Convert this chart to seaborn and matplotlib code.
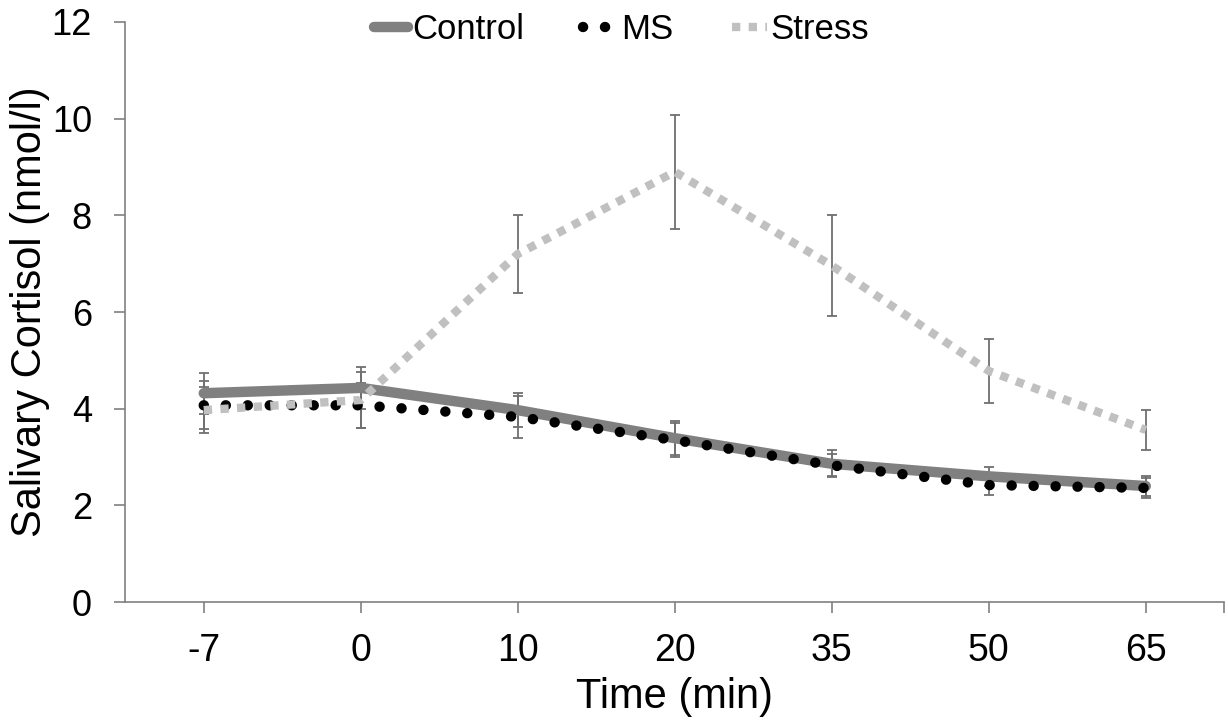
import matplotlib
matplotlib.use("Agg")
import matplotlib.pyplot as plt
import seaborn as sns
import pandas as pd

# data
time_labels = ["-7", "0", "10", "20", "35", "50", "65"]
control_mean = [4.32, 4.43, 3.97, 3.39, 2.86, 2.60, 2.40]
control_err = [0.42, 0.43, 0.35, 0.35, 0.28, 0.20, 0.20]
ms_mean = [4.07, 4.07, 3.83, 3.35, 2.83, 2.42, 2.36]
ms_err = [0.50, 0.47, 0.44, 0.35, 0.23, 0.20, 0.21]
stress_mean = [3.97, 4.18, 7.20, 8.90, 6.96, 4.78, 3.56]
stress_err = [0.47, 0.58, 0.80, 1.18, 1.04, 0.67, 0.42]

sns.set_theme(style="white")
plt.rcParams["font.family"] = ["Liberation Sans", "DejaVu Sans"]
plt.rcParams["text.color"] = "black"
plt.rcParams["axes.labelcolor"] = "black"

pos = list(range(len(time_labels)))
df = pd.DataFrame({
    "pos": pos * 3,
    "cortisol": control_mean + ms_mean + stress_mean,
    "group": ["Control"] * 7 + ["MS"] * 7 + ["Stress"] * 7,
})

fig = plt.figure(figsize=(12.28, 7.21), dpi=100)
ax = fig.add_axes([0.102, 0.165, 0.895, 0.8045])

# error bars first, underneath the lines
for means, errs in [(control_mean, control_err), (ms_mean, ms_err), (stress_mean, stress_err)]:
    ax.errorbar(pos, means, yerr=errs, fmt="none", ecolor="#707070",
                elinewidth=1.3, capsize=3.5, capthick=1.3, zorder=1)

styles = {
    "Control": dict(color="#808080", lw=7.5, ls="-", solid_capstyle="round"),
    "MS": dict(color="black", lw=7.5, ls=(0, (0.01, 2.1)), dash_capstyle="round"),
    "Stress": dict(color="#c0c0c0", lw=6.0, ls=(0, (1.0, 1.0)), dash_capstyle="butt"),
}
for name in ["Control", "MS", "Stress"]:
    sub = df[df["group"] == name]
    sns.lineplot(data=sub, x="pos", y="cortisol", ax=ax, label=name,
                 zorder=3 if name != "Control" else 2, **styles[name])

ax.set_xlim(-0.5, 6.5)
ax.set_ylim(0, 12)
ax.set_xticks(pos)
ax.set_xticklabels(time_labels)
ax.set_xticks([6.5], minor=True)  # Excel-style end tick on the category axis
ax.set_yticks([0, 2, 4, 6, 8, 10, 12])
ax.set_xlabel("Time (min)", fontsize=30, labelpad=6)
ax.set_ylabel("Salivary Cortisol (nmol/l)", fontsize=30, labelpad=1)
ax.tick_params(axis="both", which="both", length=8, width=1.2, color="#808080",
               labelcolor="black", direction="out", bottom=True, left=True)
ax.tick_params(axis="x", labelsize=27, pad=14)
ax.tick_params(axis="y", labelsize=26, pad=16)
for side in ["top", "right"]:
    ax.spines[side].set_visible(False)
for side in ["left", "bottom"]:
    ax.spines[side].set_color("#808080")
    ax.spines[side].set_linewidth(1.2)

ax.legend_.remove()
handles, labels = ax.get_legend_handles_labels()
fig.legend(handles, labels, loc="upper center", bbox_to_anchor=(0.506, 1.025), ncol=3,
           frameon=False, fontsize=25, handlelength=1.0, handletextpad=0.1,
           columnspacing=1.7)

fig.savefig("out.png", dpi=100)
